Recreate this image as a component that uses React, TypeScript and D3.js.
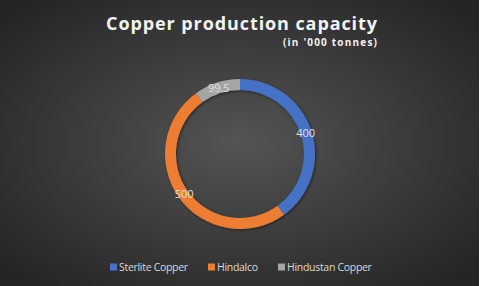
import React from "react";
import * as d3 from "d3";

const categories = ["Sterlite Copper", "Hindalco", "Hindustan Copper"];
const values = [400, 500, 99.5];
const valueLabels = ["400", "500", "99.5"];
const colors = ["#4472C4", "#ED7D31", "#A5A5A5"];

const W = 479;
const H = 286;

export default function App() {
  const cx = 240;
  const cy = 154;
  const outerR = 75;
  const innerR = 64;
  const pie = d3.pie<number>().sort(null).startAngle(0).endAngle(2 * Math.PI);
  const arcs = pie(values);
  const arc = d3.arc<d3.PieArcDatum<number>>().innerRadius(innerR).outerRadius(outerR);
  const labelArc = d3.arc<d3.PieArcDatum<number>>().innerRadius(69).outerRadius(69);

  const legendX = [110, 208, 278];

  return (
    <div style={{ position: "absolute", left: 0, top: 0 }}>
      <svg width={W} height={H} style={{ display: "block" }}>
        <defs>
          <radialGradient id="bg" cx="50%" cy="50%" r="65%">
            <stop offset="0%" stopColor="#545454" />
            <stop offset="100%" stopColor="#252525" />
          </radialGradient>
          <filter id="sh" x="-20%" y="-20%" width="140%" height="140%">
            <feDropShadow dx="1" dy="1" stdDeviation="1.5" floodColor="#000" floodOpacity="0.5" />
          </filter>
        </defs>
        <rect x={0} y={0} width={W} height={H} fill="url(#bg)" />
        <text
          x={106}
          y={30}
          fill="#f2f2f2"
          fontFamily="'Open Sans', sans-serif"
          fontWeight="bold"
          fontSize={18}
          textLength={271}
          lengthAdjust="spacing"
        >
          Copper production capacity
        </text>
        <text
          x={283}
          y={46}
          fill="#f2f2f2"
          fontFamily="'Open Sans', sans-serif"
          fontWeight="bold"
          fontSize={10}
          textLength={94}
          lengthAdjust="spacing"
        >
          (in '000 tonnes)
        </text>
        <g transform={`translate(${cx},${cy})`} filter="url(#sh)">
          {arcs.map((a, i) => (
            <path key={i} d={arc(a) || ""} fill={colors[i]} />
          ))}
        </g>
        <g transform={`translate(${cx},${cy})`}>
          {arcs.map((a, i) => {
            const [x, y] = labelArc.centroid(a);
            return (
              <text
                key={i}
                x={x}
                y={y}
                dy="0.35em"
                textAnchor="middle"
                fill="#e0e0e0"
                fontFamily="'Open Sans', sans-serif"
                fontSize={11}
              >
                {valueLabels[i]}
              </text>
            );
          })}
        </g>
        {categories.map((c, i) => (
          <g key={c} transform={`translate(${legendX[i]},267)`}>
            <rect x={0} y={-3.5} width={7} height={7} fill={colors[i]} />
            <text
              x={9}
              y={0}
              dy="0.35em"
              fill="#d9d9d9"
              fontFamily="'Open Sans', sans-serif"
              fontSize={10.5}
              letterSpacing={-0.3}
            >
              {c}
            </text>
          </g>
        ))}
      </svg>
    </div>
  );
}
